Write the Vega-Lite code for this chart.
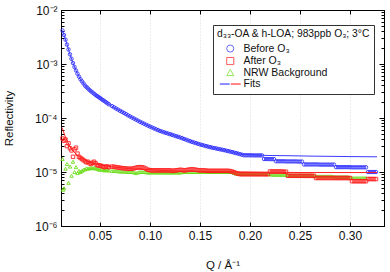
{
  "$schema": "https://vega.github.io/schema/vega-lite/v6.json",
  "width": 323,
  "height": 216,
  "autosize": "none",
  "padding": {"left": 61, "top": 10, "right": 6, "bottom": 46},
  "config": {
    "font": "Liberation Sans",
    "view": {"stroke": "#000", "strokeWidth": 1},
    "axis": {"domainColor": "#000", "tickColor": "#000", "labelColor": "#111", "titleColor": "#111", "labelFont": "Liberation Sans", "titleFont": "Liberation Sans", "labelFontSize": 12, "titleFontSize": 11.5, "titleFontWeight": "normal"},
    "legend": {"padding": 4, "strokeColor": "#333", "fillColor": "#fff", "titleFontSize": 10.3, "titleFontWeight": "normal", "titleColor": "#111", "titlePadding": 4, "labelFontSize": 10.5, "labelColor": "#111", "labelOffset": 8, "symbolOffset": 8, "symbolSize": 50, "symbolStrokeWidth": 1, "symbolOpacity": 0.7, "rowPadding": 0.5}
  },
  "datasets": {
    "before": [
      {"q":0.0125,"r":4.17e-3},{"q":0.014,"r":3.44e-3},{"q":0.0155,"r":2.82e-3},{"q":0.017,"r":2.29e-3},{"q":0.0185,"r":1.86e-3},{"q":0.02,"r":1.51e-3},{"q":0.0215,"r":1.25e-3},{"q":0.023,"r":1.04e-3},{"q":0.0245,"r":8.79e-4},{"q":0.026,"r":7.59e-4},{"q":0.0275,"r":6.61e-4},{"q":0.029,"r":5.83e-4},{"q":0.0305,"r":5.21e-4},{"q":0.032,"r":4.76e-4},{"q":0.0335,"r":4.36e-4},{"q":0.035,"r":3.98e-4},{"q":0.0365,"r":3.74e-4},{"q":0.038,"r":3.52e-4},{"q":0.0395,"r":3.30e-4},{"q":0.041,"r":3.13e-4},{"q":0.0425,"r":2.97e-4},{"q":0.044,"r":2.82e-4},{"q":0.0455,"r":2.68e-4},{"q":0.047,"r":2.56e-4},{"q":0.0485,"r":2.45e-4},{"q":0.05,"r":2.34e-4},{"q":0.0515,"r":2.24e-4},{"q":0.053,"r":2.14e-4},{"q":0.0545,"r":2.05e-4},{"q":0.056,"r":1.96e-4},{"q":0.0575,"r":1.87e-4},{"q":0.059,"r":1.79e-4},
      {"q":0.062,"r":1.66e-4},{"q":0.066,"r":1.50e-4},{"q":0.07,"r":1.36e-4},{"q":0.074,"r":1.24e-4},{"q":0.078,"r":1.12e-4},{"q":0.082,"r":1.02e-4},{"q":0.086,"r":9.33e-5},{"q":0.09,"r":8.51e-5},{"q":0.094,"r":7.83e-5},{"q":0.098,"r":7.21e-5},{"q":0.102,"r":6.67e-5},{"q":0.106,"r":6.19e-5},{"q":0.11,"r":5.75e-5},{"q":0.114,"r":5.44e-5},{"q":0.118,"r":5.15e-5},{"q":0.122,"r":4.88e-5},{"q":0.126,"r":4.61e-5},{"q":0.13,"r":4.37e-5},{"q":0.134,"r":4.09e-5},{"q":0.138,"r":3.84e-5},{"q":0.142,"r":3.61e-5},{"q":0.146,"r":3.42e-5},{"q":0.15,"r":3.24e-5},{"q":0.154,"r":3.09e-5},{"q":0.158,"r":2.95e-5},{"q":0.162,"r":2.83e-5},{"q":0.166,"r":2.73e-5},{"q":0.17,"r":2.63e-5},{"q":0.174,"r":2.54e-5},{"q":0.178,"r":2.44e-5},{"q":0.182,"r":2.34e-5},{"q":0.186,"r":2.24e-5},{"q":0.19,"r":2.14e-5},{"q":0.194,"r":2.04e-5},{"q":0.198,"r":2.04e-5},{"q":0.202,"r":2.04e-5},{"q":0.206,"r":2.03e-5},{"q":0.21,"r":2.03e-5},{"q":0.214,"r":1.74e-5},{"q":0.218,"r":1.74e-5},{"q":0.222,"r":1.73e-5},{"q":0.226,"r":1.58e-5},{"q":0.23,"r":1.58e-5},{"q":0.234,"r":1.58e-5},{"q":0.238,"r":1.57e-5},{"q":0.242,"r":1.57e-5},{"q":0.246,"r":1.57e-5},{"q":0.25,"r":1.56e-5},{"q":0.254,"r":1.38e-5},{"q":0.258,"r":1.38e-5},{"q":0.262,"r":1.38e-5},{"q":0.266,"r":1.38e-5},{"q":0.27,"r":1.37e-5},{"q":0.274,"r":1.37e-5},{"q":0.278,"r":1.37e-5},{"q":0.282,"r":1.37e-5},{"q":0.286,"r":1.23e-5},{"q":0.29,"r":1.23e-5},{"q":0.294,"r":1.23e-5},{"q":0.298,"r":1.23e-5},{"q":0.302,"r":1.22e-5},{"q":0.306,"r":1.22e-5},{"q":0.31,"r":1.22e-5},{"q":0.314,"r":1.22e-5},{"q":0.318,"r":1.0e-5},{"q":0.322,"r":1.0e-5},{"q":0.326,"r":1.0e-5},
      {"q":0.064,"r":1.58e-4},{"q":0.068,"r":1.43e-4},{"q":0.072,"r":1.30e-4},{"q":0.076,"r":1.18e-4},{"q":0.08,"r":1.07e-4},{"q":0.084,"r":9.77e-5},{"q":0.088,"r":8.92e-5},{"q":0.092,"r":8.17e-5},{"q":0.096,"r":7.52e-5},{"q":0.1,"r":6.94e-5},{"q":0.104,"r":6.43e-5},{"q":0.108,"r":5.97e-5},{"q":0.112,"r":5.60e-5},{"q":0.116,"r":5.30e-5},{"q":0.12,"r":5.02e-5},{"q":0.124,"r":4.75e-5},{"q":0.128,"r":4.49e-5},{"q":0.132,"r":4.23e-5},{"q":0.136,"r":3.97e-5},{"q":0.14,"r":3.73e-5},{"q":0.144,"r":3.52e-5},{"q":0.148,"r":3.33e-5},{"q":0.152,"r":3.17e-5},{"q":0.156,"r":3.02e-5},{"q":0.16,"r":2.89e-5},{"q":0.164,"r":2.78e-5},{"q":0.168,"r":2.68e-5},{"q":0.172,"r":2.59e-5},{"q":0.176,"r":2.49e-5},{"q":0.18,"r":2.39e-5},{"q":0.184,"r":2.29e-5},{"q":0.188,"r":2.19e-5},{"q":0.192,"r":2.09e-5},{"q":0.196,"r":2.04e-5},{"q":0.2,"r":2.04e-5},{"q":0.204,"r":2.03e-5},{"q":0.208,"r":2.03e-5},{"q":0.212,"r":2.03e-5},{"q":0.216,"r":1.74e-5},{"q":0.22,"r":1.73e-5},{"q":0.224,"r":1.73e-5},{"q":0.228,"r":1.58e-5},{"q":0.232,"r":1.58e-5},{"q":0.236,"r":1.57e-5},{"q":0.24,"r":1.57e-5},{"q":0.244,"r":1.57e-5},{"q":0.248,"r":1.56e-5},{"q":0.252,"r":1.56e-5},{"q":0.256,"r":1.38e-5},{"q":0.26,"r":1.38e-5},{"q":0.264,"r":1.38e-5},{"q":0.268,"r":1.38e-5},{"q":0.272,"r":1.37e-5},{"q":0.276,"r":1.37e-5},{"q":0.28,"r":1.37e-5},{"q":0.284,"r":1.37e-5},{"q":0.288,"r":1.23e-5},{"q":0.292,"r":1.23e-5},{"q":0.296,"r":1.23e-5},{"q":0.3,"r":1.23e-5},{"q":0.304,"r":1.22e-5},{"q":0.308,"r":1.22e-5},{"q":0.312,"r":1.22e-5},{"q":0.316,"r":1.22e-5},{"q":0.32,"r":1.0e-5},{"q":0.324,"r":1.0e-5}
    ],
    "after": [
      {"q":0.0125,"r":4.17e-5},{"q":0.014,"r":3.80e-5},{"q":0.0155,"r":3.98e-5},{"q":0.017,"r":3.02e-5},{"q":0.0185,"r":3.39e-5},{"q":0.02,"r":2.75e-5},{"q":0.0215,"r":2.51e-5},{"q":0.023,"r":1.91e-5},{"q":0.0245,"r":2.63e-5},{"q":0.026,"r":2.82e-5},{"q":0.0275,"r":2.19e-5},{"q":0.029,"r":1.91e-5},{"q":0.0305,"r":1.82e-5},{"q":0.032,"r":1.74e-5},{"q":0.0335,"r":1.66e-5},{"q":0.035,"r":1.58e-5},{"q":0.0365,"r":1.51e-5},{"q":0.038,"r":1.55e-5},{"q":0.0395,"r":1.45e-5},{"q":0.041,"r":1.41e-5},{"q":0.0425,"r":1.48e-5},{"q":0.044,"r":1.55e-5},{"q":0.0455,"r":1.45e-5},{"q":0.047,"r":1.35e-5},{"q":0.0485,"r":1.32e-5},{"q":0.05,"r":1.32e-5},{"q":0.0515,"r":1.29e-5},{"q":0.053,"r":1.26e-5},{"q":0.0545,"r":1.23e-5},{"q":0.056,"r":1.26e-5},{"q":0.0575,"r":1.26e-5},{"q":0.059,"r":1.23e-5},
      {"q":0.062,"r":1.26e-5},{"q":0.066,"r":1.23e-5},{"q":0.07,"r":1.20e-5},{"q":0.074,"r":1.17e-5},{"q":0.078,"r":1.15e-5},{"q":0.082,"r":1.15e-5},{"q":0.086,"r":1.20e-5},{"q":0.09,"r":1.23e-5},{"q":0.094,"r":1.20e-5},{"q":0.098,"r":1.10e-5},{"q":0.102,"r":1.07e-5},{"q":0.106,"r":1.07e-5},{"q":0.11,"r":1.07e-5},{"q":0.114,"r":1.07e-5},{"q":0.118,"r":1.07e-5},{"q":0.122,"r":1.05e-5},{"q":0.126,"r":1.07e-5},{"q":0.13,"r":1.10e-5},{"q":0.134,"r":1.07e-5},{"q":0.138,"r":1.10e-5},{"q":0.142,"r":1.12e-5},{"q":0.146,"r":1.10e-5},{"q":0.15,"r":1.07e-5},{"q":0.154,"r":1.07e-5},{"q":0.158,"r":1.05e-5},{"q":0.162,"r":1.05e-5},{"q":0.166,"r":1.05e-5},{"q":0.17,"r":1.05e-5},{"q":0.174,"r":1.05e-5},{"q":0.178,"r":1.05e-5},{"q":0.182,"r":1.02e-5},{"q":0.186,"r":9.55e-6},{"q":0.19,"r":9.12e-6},{"q":0.194,"r":9.12e-6},{"q":0.198,"r":9.12e-6},{"q":0.202,"r":9.10e-6},{"q":0.206,"r":9.10e-6},{"q":0.21,"r":9.10e-6},{"q":0.214,"r":9.08e-6},{"q":0.218,"r":9.08e-6},{"q":0.222,"r":1.02e-5},{"q":0.226,"r":1.02e-5},{"q":0.23,"r":1.02e-5},{"q":0.234,"r":1.01e-5},{"q":0.238,"r":8.51e-6},{"q":0.242,"r":8.51e-6},{"q":0.246,"r":8.50e-6},{"q":0.25,"r":8.50e-6},{"q":0.254,"r":8.49e-6},{"q":0.258,"r":8.48e-6},{"q":0.262,"r":8.48e-6},{"q":0.266,"r":7.76e-6},{"q":0.27,"r":7.76e-6},{"q":0.274,"r":7.75e-6},{"q":0.278,"r":7.75e-6},{"q":0.282,"r":7.74e-6},{"q":0.286,"r":7.74e-6},{"q":0.29,"r":7.73e-6},{"q":0.294,"r":7.73e-6},{"q":0.298,"r":7.72e-6},{"q":0.302,"r":6.76e-6},{"q":0.306,"r":6.76e-6},{"q":0.31,"r":6.75e-6},{"q":0.314,"r":6.75e-6},{"q":0.318,"r":7.41e-6},{"q":0.322,"r":7.41e-6},{"q":0.326,"r":7.40e-6},
      {"q":0.064,"r":1.25e-5},{"q":0.068,"r":1.21e-5},{"q":0.072,"r":1.18e-5},{"q":0.076,"r":1.16e-5},{"q":0.08,"r":1.15e-5},{"q":0.084,"r":1.17e-5},{"q":0.088,"r":1.22e-5},{"q":0.092,"r":1.22e-5},{"q":0.096,"r":1.15e-5},{"q":0.1,"r":1.08e-5},{"q":0.104,"r":1.07e-5},{"q":0.108,"r":1.07e-5},{"q":0.112,"r":1.07e-5},{"q":0.116,"r":1.07e-5},{"q":0.12,"r":1.07e-5},{"q":0.124,"r":1.06e-5},{"q":0.128,"r":1.08e-5},{"q":0.132,"r":1.09e-5},{"q":0.136,"r":1.08e-5},{"q":0.14,"r":1.11e-5},{"q":0.144,"r":1.11e-5},{"q":0.148,"r":1.08e-5},{"q":0.152,"r":1.07e-5},{"q":0.156,"r":1.06e-5},{"q":0.16,"r":1.05e-5},{"q":0.164,"r":1.05e-5},{"q":0.168,"r":1.05e-5},{"q":0.172,"r":1.05e-5},{"q":0.176,"r":1.05e-5},{"q":0.18,"r":1.04e-5},{"q":0.184,"r":9.9e-6},{"q":0.188,"r":9.3e-6},{"q":0.192,"r":9.1e-6},{"q":0.196,"r":9.1e-6},{"q":0.2,"r":9.1e-6},{"q":0.204,"r":9.1e-6},{"q":0.208,"r":9.1e-6},{"q":0.212,"r":9.1e-6},{"q":0.216,"r":9.1e-6},{"q":0.22,"r":1.02e-5},{"q":0.224,"r":1.02e-5},{"q":0.228,"r":1.02e-5},{"q":0.232,"r":1.02e-5},{"q":0.236,"r":1.01e-5},{"q":0.24,"r":8.5e-6},{"q":0.244,"r":8.5e-6},{"q":0.248,"r":8.5e-6},{"q":0.252,"r":8.5e-6},{"q":0.256,"r":8.5e-6},{"q":0.26,"r":8.5e-6},{"q":0.264,"r":8.48e-6},{"q":0.268,"r":7.75e-6},{"q":0.272,"r":7.75e-6},{"q":0.276,"r":7.75e-6},{"q":0.28,"r":7.75e-6},{"q":0.284,"r":7.75e-6},{"q":0.288,"r":7.75e-6},{"q":0.292,"r":7.75e-6},{"q":0.296,"r":7.75e-6},{"q":0.3,"r":7.72e-6},{"q":0.304,"r":6.76e-6},{"q":0.308,"r":6.76e-6},{"q":0.312,"r":6.76e-6},{"q":0.316,"r":6.75e-6},{"q":0.32,"r":7.41e-6},{"q":0.324,"r":7.41e-6}
    ],
    "nrw": [
      {"q":0.0125,"r":1.74e-5},{"q":0.013,"r":4.68e-6},{"q":0.014,"r":5.01e-6},{"q":0.0155,"r":1.15e-5},{"q":0.017,"r":1.41e-5},{"q":0.0185,"r":6.31e-6},{"q":0.02,"r":1.26e-5},{"q":0.0215,"r":8.51e-6},{"q":0.023,"r":1.55e-5},{"q":0.0245,"r":1.0e-5},{"q":0.026,"r":1.23e-5},{"q":0.0275,"r":9.55e-6},{"q":0.029,"r":1.05e-5},{"q":0.0305,"r":1.0e-5},{"q":0.032,"r":1.05e-5},{"q":0.0335,"r":1.10e-5},{"q":0.035,"r":1.12e-5},{"q":0.0365,"r":1.17e-5},{"q":0.038,"r":1.15e-5},{"q":0.0395,"r":1.17e-5},{"q":0.041,"r":1.20e-5},{"q":0.0425,"r":1.17e-5},{"q":0.044,"r":1.20e-5},{"q":0.0455,"r":1.17e-5},{"q":0.047,"r":1.15e-5},{"q":0.0485,"r":1.12e-5},{"q":0.05,"r":1.10e-5},{"q":0.0515,"r":1.12e-5},{"q":0.053,"r":1.10e-5},{"q":0.0545,"r":1.07e-5},{"q":0.056,"r":1.10e-5},{"q":0.0575,"r":1.07e-5},{"q":0.059,"r":1.07e-5},
      {"q":0.062,"r":1.05e-5},{"q":0.066,"r":1.05e-5},{"q":0.07,"r":1.02e-5},{"q":0.074,"r":1.02e-5},{"q":0.078,"r":1.0e-5},{"q":0.082,"r":1.0e-5},{"q":0.086,"r":9.55e-6},{"q":0.09,"r":1.0e-5},{"q":0.094,"r":1.0e-5},{"q":0.098,"r":9.77e-6},{"q":0.102,"r":9.77e-6},{"q":0.106,"r":9.77e-6},{"q":0.11,"r":9.77e-6},{"q":0.114,"r":9.77e-6},{"q":0.118,"r":9.77e-6},{"q":0.122,"r":9.77e-6},{"q":0.126,"r":9.77e-6},{"q":0.13,"r":9.77e-6},{"q":0.134,"r":1.0e-5},{"q":0.138,"r":1.0e-5},{"q":0.142,"r":1.0e-5},{"q":0.146,"r":1.0e-5},{"q":0.15,"r":1.0e-5},{"q":0.154,"r":1.0e-5},{"q":0.158,"r":1.0e-5},{"q":0.162,"r":1.0e-5},{"q":0.166,"r":1.0e-5},{"q":0.17,"r":1.0e-5},{"q":0.174,"r":1.0e-5},{"q":0.178,"r":1.0e-5},{"q":0.182,"r":1.0e-5},{"q":0.186,"r":9.33e-6},{"q":0.19,"r":9.33e-6},{"q":0.194,"r":9.33e-6},{"q":0.198,"r":9.33e-6},{"q":0.202,"r":9.33e-6},{"q":0.206,"r":9.33e-6},{"q":0.21,"r":9.33e-6},{"q":0.214,"r":9.33e-6},{"q":0.218,"r":9.33e-6},{"q":0.222,"r":8.91e-6},{"q":0.226,"r":8.91e-6},{"q":0.23,"r":8.91e-6},{"q":0.234,"r":8.91e-6},{"q":0.238,"r":8.71e-6},{"q":0.242,"r":8.71e-6},{"q":0.246,"r":8.71e-6},{"q":0.25,"r":8.71e-6},{"q":0.254,"r":8.71e-6},{"q":0.258,"r":8.71e-6},{"q":0.262,"r":8.71e-6},{"q":0.266,"r":8.32e-6},{"q":0.27,"r":8.32e-6},{"q":0.274,"r":8.32e-6},{"q":0.278,"r":8.32e-6},{"q":0.282,"r":8.32e-6},{"q":0.286,"r":8.13e-6},{"q":0.29,"r":8.13e-6},{"q":0.294,"r":8.13e-6},{"q":0.298,"r":8.13e-6},{"q":0.302,"r":7.76e-6},{"q":0.306,"r":7.76e-6},{"q":0.31,"r":7.76e-6},{"q":0.314,"r":7.76e-6},
      {"q":0.064,"r":1.05e-5},{"q":0.068,"r":1.03e-5},{"q":0.072,"r":1.02e-5},{"q":0.076,"r":1.01e-5},{"q":0.08,"r":1.0e-5},{"q":0.084,"r":9.8e-6},{"q":0.088,"r":9.8e-6},{"q":0.092,"r":1.0e-5},{"q":0.096,"r":9.9e-6},{"q":0.1,"r":9.77e-6},{"q":0.104,"r":9.77e-6},{"q":0.108,"r":9.77e-6},{"q":0.112,"r":9.77e-6},{"q":0.116,"r":9.77e-6},{"q":0.12,"r":9.77e-6},{"q":0.124,"r":9.77e-6},{"q":0.128,"r":9.77e-6},{"q":0.132,"r":9.9e-6},{"q":0.136,"r":1.0e-5},{"q":0.14,"r":1.0e-5},{"q":0.144,"r":1.0e-5},{"q":0.148,"r":1.0e-5},{"q":0.152,"r":1.0e-5},{"q":0.156,"r":1.0e-5},{"q":0.16,"r":1.0e-5},{"q":0.164,"r":1.0e-5},{"q":0.168,"r":1.0e-5},{"q":0.172,"r":1.0e-5},{"q":0.176,"r":1.0e-5},{"q":0.18,"r":1.0e-5},{"q":0.184,"r":9.6e-6},{"q":0.188,"r":9.33e-6},{"q":0.192,"r":9.33e-6},{"q":0.196,"r":9.33e-6},{"q":0.2,"r":9.33e-6},{"q":0.204,"r":9.33e-6},{"q":0.208,"r":9.33e-6},{"q":0.212,"r":9.33e-6},{"q":0.216,"r":9.33e-6},{"q":0.22,"r":9.1e-6},{"q":0.224,"r":8.91e-6},{"q":0.228,"r":8.91e-6},{"q":0.232,"r":8.91e-6},{"q":0.236,"r":8.8e-6},{"q":0.24,"r":8.71e-6},{"q":0.244,"r":8.71e-6},{"q":0.248,"r":8.71e-6},{"q":0.252,"r":8.71e-6},{"q":0.256,"r":8.71e-6},{"q":0.26,"r":8.71e-6},{"q":0.264,"r":8.5e-6},{"q":0.268,"r":8.32e-6},{"q":0.272,"r":8.32e-6},{"q":0.276,"r":8.32e-6},{"q":0.28,"r":8.32e-6},{"q":0.284,"r":8.2e-6},{"q":0.288,"r":8.13e-6},{"q":0.292,"r":8.13e-6},{"q":0.296,"r":8.13e-6},{"q":0.3,"r":7.9e-6},{"q":0.304,"r":7.76e-6},{"q":0.308,"r":7.76e-6},{"q":0.312,"r":7.76e-6},{"q":0.316,"r":7.76e-6}
    ],
    "fitBefore": [
      {"q":0.0125,"r":4.17e-3},{"q":0.015,"r":3.02e-3},{"q":0.0175,"r":2.14e-3},{"q":0.02,"r":1.51e-3},{"q":0.0225,"r":1.10e-3},{"q":0.025,"r":8.32e-4},{"q":0.0275,"r":6.61e-4},{"q":0.03,"r":5.37e-4},{"q":0.035,"r":3.98e-4},{"q":0.04,"r":3.24e-4},{"q":0.045,"r":2.72e-4},{"q":0.05,"r":2.34e-4},{"q":0.06,"r":1.74e-4},{"q":0.07,"r":1.36e-4},{"q":0.08,"r":1.07e-4},{"q":0.09,"r":8.51e-5},{"q":0.1,"r":6.92e-5},{"q":0.11,"r":5.75e-5},{"q":0.12,"r":5.01e-5},{"q":0.13,"r":4.37e-5},{"q":0.14,"r":3.72e-5},{"q":0.15,"r":3.24e-5},{"q":0.16,"r":2.88e-5},{"q":0.17,"r":2.63e-5},{"q":0.18,"r":2.40e-5},{"q":0.19,"r":2.14e-5},{"q":0.2,"r":2.07e-5},{"q":0.22,"r":2.02e-5},{"q":0.24,"r":2.0e-5},{"q":0.26,"r":1.97e-5},{"q":0.28,"r":1.95e-5},{"q":0.3,"r":1.93e-5},{"q":0.327,"r":1.91e-5}
    ],
    "fitAfter": [
      {"q":0.012,"r":6.61e-5},{"q":0.015,"r":4.68e-5},{"q":0.0175,"r":3.63e-5},{"q":0.02,"r":2.95e-5},{"q":0.0225,"r":2.51e-5},{"q":0.025,"r":2.24e-5},{"q":0.03,"r":1.86e-5},{"q":0.035,"r":1.66e-5},{"q":0.04,"r":1.51e-5},{"q":0.05,"r":1.35e-5},{"q":0.06,"r":1.26e-5},{"q":0.07,"r":1.20e-5},{"q":0.08,"r":1.15e-5},{"q":0.1,"r":1.10e-5},{"q":0.12,"r":1.05e-5},{"q":0.15,"r":1.02e-5},{"q":0.2,"r":1.0e-5},{"q":0.25,"r":9.77e-6},{"q":0.327,"r":9.77e-6}
    ]
  },
  "layer": [
    {
      "layer": [
        {
          "data": {"name": "nrw"},
          "mark": {"type": "point", "filled": false, "size": 12, "strokeWidth": 1, "opacity": 0.85},
          "encoding": {
            "x": {"field": "q", "type": "quantitative", "scale": {"domain": [0.011, 0.334], "nice": false, "zero": false},
              "axis": {"values": [0.05, 0.1, 0.15, 0.2, 0.25, 0.3], "format": ".2f", "tickSize": -4, "labelPadding": 8, "grid": true, "gridColor": "#d0d0d0", "gridDash": [1, 2], "gridWidth": 0.8, "title": "Q / Å⁻¹", "titlePadding": 18}},
            "y": {"field": "r", "type": "quantitative", "scale": {"type": "log", "domain": [1e-6, 1e-2], "nice": false},
              "axis": {"values": [1e-6,2e-6,3e-6,4e-6,5e-6,6e-6,7e-6,8e-6,9e-6,1e-5,2e-5,3e-5,4e-5,5e-5,6e-5,7e-5,8e-5,9e-5,1e-4,2e-4,3e-4,4e-4,5e-4,6e-4,7e-4,8e-4,9e-4,1e-3,2e-3,3e-3,4e-3,5e-3,6e-3,7e-3,8e-3,9e-3,1e-2],
                "labelExpr": "datum.value==1e-6?'10⁻⁶':datum.value==1e-5?'10⁻⁵':datum.value==1e-4?'10⁻⁴':datum.value==1e-3?'10⁻³':datum.value==1e-2?'10⁻²':''",
                "tickSize": {"condition": {"test": "datum.value==1e-6||datum.value==1e-5||datum.value==1e-4||datum.value==1e-3||datum.value==1e-2", "value": -5}, "value": -3},
                "labelPadding": 9, "grid": false, "title": "Reflectivity", "titlePadding": 20, "labelFlush": false, "labelOverlap": false}},
            "color": {"datum": "n", "type": "nominal",
              "scale": {"domain": ["b", "a", "n", "f"], "range": ["#2a2aff", "#ff1a1a", "#66dd11", {"expr": "{gradient: 'linear', stops: [{offset: 0, color: '#3333ff'}, {offset: 0.5, color: '#3333ff'}, {offset: 0.5, color: '#ff2222'}, {offset: 1, color: '#ff2222'}]}"}]},
              "legend": {"title": "d₃₃-OA & h-LOA; 983ppb O₃; 3°C", "orient": "none", "legendX": 152, "legendY": 15,
                "labelExpr": "datum.value=='b'?'Before O₃':datum.value=='a'?'After O₃':datum.value=='n'?'NRW Background':'Fits'"}},
            "shape": {"datum": "n", "type": "nominal", "scale": {"domain": ["b", "a", "n", "f"], "range": ["circle", "square", "triangle-up", "M-2.9,-0.05H-0.2V0.05H-2.9Z M0.2,-0.05H2.9V0.05H0.2Z"]}}
          }
        },
        {
          "data": {"name": "after"},
          "mark": {"type": "point", "filled": false, "size": 12, "strokeWidth": 1, "opacity": 0.85},
          "encoding": {
            "x": {"field": "q", "type": "quantitative"},
            "y": {"field": "r", "type": "quantitative"},
            "color": {"datum": "a", "type": "nominal"},
            "shape": {"datum": "a", "type": "nominal"}
          }
        },
        {
          "data": {"name": "before"},
          "mark": {"type": "point", "filled": false, "size": 12, "strokeWidth": 1, "opacity": 0.85},
          "encoding": {
            "x": {"field": "q", "type": "quantitative"},
            "y": {"field": "r", "type": "quantitative"},
            "color": {"datum": "b", "type": "nominal"},
            "shape": {"datum": "b", "type": "nominal"}
          }
        },
        {
          "data": {"name": "fitAfter"},
          "mark": {"type": "line", "stroke": "#ff2020", "strokeWidth": 1},
          "encoding": {
            "x": {"field": "q", "type": "quantitative"},
            "y": {"field": "r", "type": "quantitative"}
          }
        },
        {
          "data": {"name": "fitBefore"},
          "mark": {"type": "line", "stroke": "#3a3aff", "strokeWidth": 1},
          "encoding": {
            "x": {"field": "q", "type": "quantitative"},
            "y": {"field": "r", "type": "quantitative"}
          }
        }
      ]
    },
    {
      "data": {"name": "fitAfter"},
      "mark": {"type": "point", "opacity": 0},
      "encoding": {
        "x": {"field": "q", "type": "quantitative", "scale": {"domain": [0.011, 0.334], "nice": false, "zero": false},
          "axis": {"orient": "top", "values": [0.05, 0.1, 0.15, 0.2, 0.25, 0.3], "labels": false, "tickSize": -4, "grid": false, "title": null}},
        "y": {"field": "r", "type": "quantitative", "scale": {"type": "log", "domain": [1e-6, 1e-2], "nice": false},
          "axis": {"orient": "right", "values": [1e-6,2e-6,3e-6,4e-6,5e-6,6e-6,7e-6,8e-6,9e-6,1e-5,2e-5,3e-5,4e-5,5e-5,6e-5,7e-5,8e-5,9e-5,1e-4,2e-4,3e-4,4e-4,5e-4,6e-4,7e-4,8e-4,9e-4,1e-3,2e-3,3e-3,4e-3,5e-3,6e-3,7e-3,8e-3,9e-3,1e-2],
            "labels": false, "grid": false, "title": null,
            "tickSize": {"condition": {"test": "datum.value==1e-6||datum.value==1e-5||datum.value==1e-4||datum.value==1e-3||datum.value==1e-2", "value": -5}, "value": -3}}}
      }
    }
  ],
  "resolve": {"scale": {"x": "independent", "y": "independent"}}
}
